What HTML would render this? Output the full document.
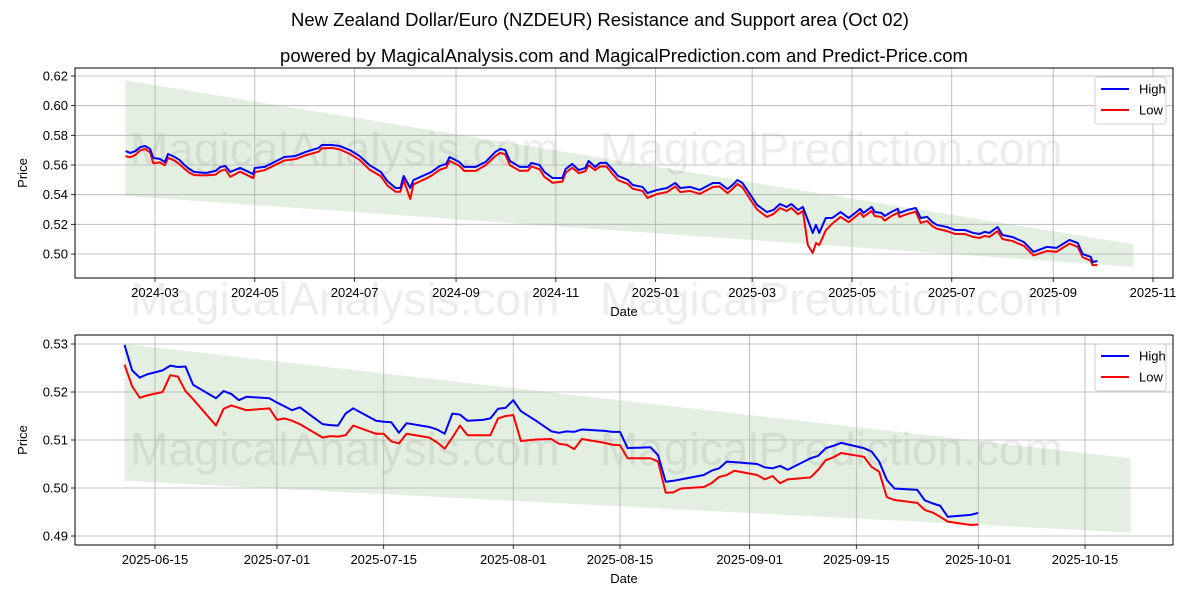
<!DOCTYPE html>
<html><head><meta charset="utf-8"><style>
html,body{margin:0;padding:0;background:#fff;overflow:hidden;width:1200px;height:600px;}
svg{display:block;}
svg text{font-family:"Liberation Sans","DejaVu Sans",sans-serif;}
</style></head><body>
<svg id="c" width="1200" height="600" xmlns="http://www.w3.org/2000/svg">
<rect width="1200" height="600" fill="#fff"/>
<text x="600" y="26" text-anchor="middle" font-size="18.5">New Zealand Dollar/Euro (NZDEUR) Resistance and Support area (Oct 02)</text>
<text x="624" y="62" text-anchor="middle" font-size="18.5">powered by MagicalAnalysis.com and MagicalPrediction.com and Predict-Price.com</text>
<g id="top"></g>
<g id="bot"></g>
</svg>
<script>
// Top panel data: days since 2024-03-01
const topDays=[-18,-15,-12,-9,-6,-3,-1,3,6,8,12,15,18,21,24,31,37,40,43,46,52,60,61,67,73,79,86,92,100,102,108,113,119,125,131,138,142,147,150,152,156,158,165,169,174,178,180,186,189,196,202,208,211,214,217,223,228,230,235,238,243,249,251,255,259,263,265,269,272,276,280,283,289,292,298,301,307,313,318,321,327,333,341,345,350,353,356,359,364,368,374,378,382,386,389,393,396,399,402,404,406,410,414,419,424,428,431,433,438,440,444,446,450,454,455,460,465,468,472,475,478,484,489,495,500,504,507,510,515,518,524,531,537,545,551,559,564,567,572,573,576];
const topHigh=[.5694,.5681,.5694,.5721,.5728,.5708,.5647,.5641,.5620,.5674,.5654,.5634,.5600,.5573,.5553,.5546,.5560,.5587,.5593,.5553,.5580,.5539,.5580,.5587,.5620,.5654,.5661,.5688,.5715,.5735,.5735,.5728,.5701,.5661,.5600,.5553,.5492,.5445,.5445,.5526,.5445,.5499,.5533,.5553,.5593,.5607,.5654,.5620,.5587,.5587,.5620,.5688,.5708,.5701,.5627,.5587,.5587,.5614,.5600,.5553,.5512,.5512,.5573,.5607,.5566,.5580,.5627,.5587,.5614,.5614,.5566,.5526,.5499,.5465,.5452,.5411,.5432,.5445,.5479,.5445,.5452,.5432,.5479,.5479,.5438,.5465,.5499,.5479,.5398,.5331,.5283,.5297,.5337,.5317,.5337,.5297,.5317,.5229,.5142,.5196,.5142,.5243,.5243,.5283,.5243,.5277,.5304,.5277,.5317,.5283,.5277,.5256,.5283,.5304,.5277,.5297,.5310,.5243,.5250,.5216,.5196,.5182,.5162,.5162,.5142,.5135,.5149,.5142,.5182,.5128,.5115,.5081,.5014,.5048,.5041,.5095,.5074,.5000,.4980,.4946,.4953];
const topLow=[.5660,.5652,.5668,.5700,.5708,.5685,.5612,.5618,.5598,.5648,.5630,.5605,.5575,.5548,.5532,.5530,.5535,.5560,.5570,.5520,.5555,.5512,.5552,.5565,.5598,.5630,.5640,.5665,.5690,.5712,.5715,.5705,.5675,.5635,.5570,.5525,.5462,.5420,.5420,.5498,.5371,.5470,.5505,.5528,.5568,.5582,.5628,.5595,.5560,.5560,.5598,.5660,.5682,.5672,.5598,.5560,.5562,.5590,.5572,.5520,.5480,.5488,.5548,.5582,.5545,.5558,.5600,.5565,.5590,.5590,.5535,.5498,.5472,.5440,.5425,.5378,.5405,.5418,.5455,.5418,.5425,.5405,.5452,.5455,.5410,.5440,.5472,.5450,.5365,.5300,.5250,.5270,.5310,.5290,.5310,.5268,.5290,.5061,.5007,.5074,.5060,.5160,.5205,.5250,.5215,.5250,.5278,.5250,.5290,.5255,.5250,.5225,.5255,.5278,.5250,.5270,.5285,.5210,.5222,.5188,.5170,.5155,.5135,.5135,.5115,.5108,.5122,.5115,.5155,.5100,.5088,.5055,.4990,.5020,.5015,.5070,.5048,.4978,.4955,.4925,.4925];
const topBandDays=[-18,598];
const topBandUpper=[.6170,.5065];
const topBandLower=[.5392,.4913];
const topYTicks=[0.50,0.52,0.54,0.56,0.58,0.60,0.62];
const topXTicks=["2024-03","2024-05","2024-07","2024-09","2024-11","2025-01","2025-03","2025-05","2025-07","2025-09","2025-11"];
// Bottom panel data: days since 2025-06-15
const botDays=[-4,-3,-2,-1,1,2,3,4,5,8,9,10,11,12,15,16,17,18,19,22,23,24,25,26,29,30,31,32,33,36,37,38,39,40,41,43,44,45,46,47,48,50,52,53,54,55,56,59,60,61,62,65,66,67,68,69,72,73,74,75,76,79,80,81,82,83,86,87,88,89,90,93,94,95,96,97,100,101,102,103,104,107,108];
const botHigh=[.5298,.5245,.5230,.5237,.5245,.5255,.5252,.5253,.5215,.5187,.5202,.5196,.5183,.5190,.5187,.5178,.5170,.5162,.5168,.5133,.5131,.5130,.5155,.5166,.5140,.5138,.5137,.5115,.5135,.5127,.5122,.5113,.5155,.5153,.5140,.5142,.5145,.5165,.5167,.5183,.5160,.5140,.5118,.5115,.5118,.5117,.5122,.5119,.5117,.5117,.5083,.5085,.5068,.5013,.5015,.5018,.5027,.5036,.5041,.5055,.5054,.5050,.5043,.5041,.5046,.5038,.5062,.5067,.5083,.5088,.5094,.5083,.5076,.5055,.5017,.4999,.4996,.4974,.4968,.4963,.4940,.4944,.4948];
const botLow=[.5257,.5212,.5188,.5193,.5200,.5235,.5232,.5202,.5185,.5130,.5165,.5172,.5167,.5162,.5166,.5142,.5145,.5140,.5133,.5105,.5108,.5107,.5110,.5130,.5113,.5113,.5097,.5093,.5113,.5105,.5095,.5082,.5105,.5130,.5110,.5110,.5110,.5145,.5150,.5152,.5098,.5101,.5102,.5092,.5090,.5081,.5102,.5094,.5090,.5089,.5062,.5062,.5055,.4990,.4991,.4999,.5002,.5010,.5023,.5027,.5036,.5027,.5018,.5025,.5010,.5018,.5022,.5038,.5058,.5064,.5073,.5065,.5044,.5034,.4981,.4975,.4969,.4954,.4949,.4940,.4930,.4923,.4924];
const botBandDays=[-4,128];
const botBandUpper=[.5300,.5062];
const botBandLower=[.5015,.4907];
const botYTicks=[0.49,0.50,0.51,0.52,0.53];
const botXTicks=["2025-06-15","2025-07-01","2025-07-15","2025-08-01","2025-08-15","2025-09-01","2025-09-15","2025-10-01","2025-10-15"];

const NS="http://www.w3.org/2000/svg";
function mk(parent,tag,attrs){const e=document.createElementNS(NS,tag);for(const k in attrs)e.setAttribute(k,attrs[k]);parent.appendChild(e);return e;}
const DAY=86400000;
function dayOf(str,ref){return (Date.parse(str.length===7?str+"-01":str)-Date.parse(ref))/DAY;}

function panel(g,cfg){
  const L=75,R=1173,T=cfg.top,B=cfg.bottom;
  const xs=d=>cfg.x0+d*cfg.pxDay;
  const ys=v=>cfg.yA+(v-cfg.vA)*(cfg.yB-cfg.yA)/(cfg.vB-cfg.vA);
  const b=cfg.band;
  const band=mk(g,'polygon',{points:`${xs(b.d[0])},${ys(b.u[0])} ${xs(b.d[1])},${ys(b.u[1])} ${xs(b.d[1])},${ys(b.l[1])} ${xs(b.d[0])},${ys(b.l[0])}`,fill:'#e3efe1'});
  
  
  cfg.marks.forEach(m=>{const t=mk(g,'text',{x:m[0],y:m[1],'font-size':46,fill:'#000','fill-opacity':0.07});t.textContent=m[2];
    
    });
  cfg.yTicks.forEach(v=>{const y=ys(v);
    const gl=mk(g,'line',{x1:L,x2:R,y1:y,y2:y,stroke:'#b0b0b0','stroke-width':0.8});
    
    
    mk(g,'line',{x1:L-4,x2:L,y1:y,y2:y,stroke:'#000','stroke-width':0.8});
    const t=mk(g,'text',{x:L-7,y:y+4.5,'text-anchor':'end','font-size':13});t.textContent=v.toFixed(cfg.dec);
    
    });
  cfg.xTicks.forEach(s=>{const x=xs(dayOf(s,cfg.ref));
    const gl=mk(g,'line',{x1:x,x2:x,y1:T,y2:B,stroke:'#b0b0b0','stroke-width':0.8});
    
    
    mk(g,'line',{x1:x,x2:x,y1:B,y2:B+4,stroke:'#000','stroke-width':0.8});
    const t=mk(g,'text',{x:x,y:B+19,'text-anchor':'middle','font-size':13});t.textContent=s;
    
    });
  function line(d,v,col,name){const p=mk(g,'polyline',{points:d.map((dd,i)=>xs(dd)+','+ys(v[i])).join(' '),fill:'none',stroke:col,'stroke-width':2,'stroke-linejoin':'round'});
    
    }
  line(cfg.days,cfg.low,'#ff0000','low-line');
  line(cfg.days,cfg.high,'#0000ff','high-line');
  const fr=mk(g,'rect',{x:L,y:T,width:R-L,height:B-T,fill:'none',stroke:'#000','stroke-width':1});
  
  
  const xl=mk(g,'text',{x:(L+R)/2,y:B+38,'text-anchor':'middle','font-size':13});xl.textContent='Date';
  
  
  const yl=mk(g,'text',{x:0,y:0,'text-anchor':'middle','font-size':13,transform:`translate(27,${(T+B)/2}) rotate(-90)`});yl.textContent='Price';
  
  
  const lg=mk(g,'g',{});
  
  
  const ly=T+9;
  mk(lg,'rect',{x:1095,y:ly,width:71,height:47,rx:3,fill:'#fff','fill-opacity':0.8,stroke:'#d0d0d0'});
  [['High','#0000ff'],['Low','#ff0000']].forEach((e,i)=>{const yy=ly+12+i*21;
    const ee=mk(lg,'g',{});
    
    
    mk(ee,'line',{x1:1101,x2:1129,y1:yy,y2:yy,stroke:e[1],'stroke-width':2});
    const t=mk(ee,'text',{x:1139,y:yy+4.5,'font-size':13});t.textContent=e[0];});
}
panel(document.getElementById('top'),{top:68,bottom:278,ref:'2024-03-01',x0:155,pxDay:998/610,yA:254,vA:0.50,yB:76,vB:0.62,dec:2,
  days:topDays,high:topHigh,low:topLow,band:{d:topBandDays,u:topBandUpper,l:topBandLower},yTicks:topYTicks,xTicks:topXTicks,
  marks:[[130,165,'MagicalAnalysis.com'],[600,165,'MagicalPrediction.com'],[130,315,'MagicalAnalysis.com'],[600,315,'MagicalPrediction.com']]});
panel(document.getElementById('bot'),{top:335,bottom:545,ref:'2025-06-15',x0:155,pxDay:930/122,yA:536,vA:0.49,yB:344,vB:0.53,dec:2,
  days:botDays,high:botHigh,low:botLow,band:{d:botBandDays,u:botBandUpper,l:botBandLower},yTicks:botYTicks,xTicks:botXTicks,
  marks:[[130,465,'MagicalAnalysis.com'],[600,465,'MagicalPrediction.com']]});
</script>
</body></html>
